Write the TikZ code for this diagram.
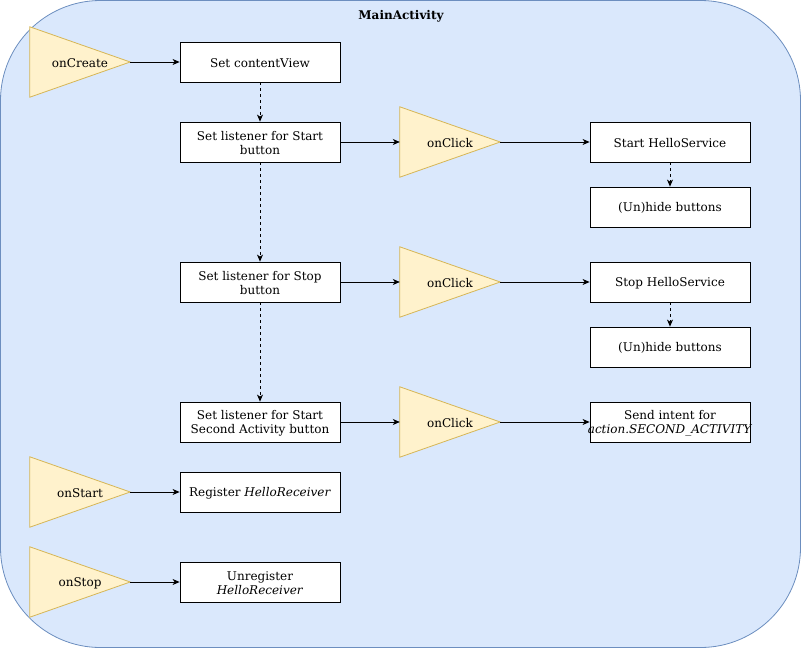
\documentclass[tikz,border=0pt]{standalone}
\usepackage{fontspec}
\setmainfont{DejaVu Serif}
\usetikzlibrary{arrows.meta}
\definecolor{outerfill}{HTML}{DAE8FC}
\definecolor{outerline}{HTML}{6C8EBF}
\definecolor{trifill}{HTML}{FFF2CC}
\definecolor{triline}{HTML}{D6B656}
\begin{document}
\begin{tikzpicture}[x=1pt,y=-1pt,
  font=\fontsize{12}{14}\selectfont,
  box/.style={draw=black,fill=white,minimum width=160pt,minimum height=40pt,inner sep=0pt,line width=0.8pt},
  txt/.style={align=center,inner sep=0pt},
  trilabel/.style={minimum width=100pt,minimum height=70pt,inner sep=0pt},
  trishape/.style={draw=triline,fill=trifill,line width=0.8pt},
  arr/.style={-{Stealth[length=7pt,width=6pt,inset=2pt]},line width=0.8pt},
  darr/.style={arr,dashed,dash pattern=on 3pt off 3pt}]
\useasboundingbox (0,0) rectangle (801,648);
\draw[fill=outerfill,draw=outerline,line width=0.8pt,rounded corners=100pt] (0.5,0.5) rectangle (800.5,647.5);
\node[font=\fontsize{12}{14}\selectfont\bfseries] (title) at (401,16) {MainActivity};

% triangles (bounding nodes)
\node[trilabel] (tcreate) at (80,62) {};
\node[trilabel] (tclick1) at (450,142) {};
\node[trilabel] (tclick2) at (450,282) {};
\node[trilabel] (tclick3) at (450,422) {};
\node[trilabel] (tstart) at (80,492) {};
\node[trilabel] (tstop) at (80,582) {};
\foreach \t in {tcreate,tclick1,tclick2,tclick3,tstart,tstop}{
  \draw[trishape] (\t.north west) -- (\t.east) -- (\t.south west) -- cycle;
}
\node[txt] (lcreate) at ([yshift=-1pt]tcreate) {onCreate};
\node[txt] (lclick1) at ([yshift=-1pt]tclick1) {onClick};
\node[txt] (lclick2) at ([yshift=-1pt]tclick2) {onClick};
\node[txt] (lclick3) at ([yshift=-1pt]tclick3) {onClick};
\node[txt] (lstartt) at ([yshift=-1pt]tstart) {onStart};
\node[txt] (lstopt) at ([yshift=-1pt]tstop) {onStop};

% boxes
\node[box] (content) at (260,62) {};
\node[box] (lstart) at (260,142) {};
\node[box] (lstop) at (260,282) {};
\node[box] (lsecond) at (260,422) {};
\node[box] (register) at (260,492) {};
\node[box] (unregister) at (260,582) {};
\node[box] (starths) at (670,142) {};
\node[box] (hide1) at (670,207) {};
\node[box] (stophs) at (670,282) {};
\node[box] (hide2) at (670,347) {};
\node[box] (intent) at (670,422) {};
\node[txt] (tcontent) at ([yshift=-1pt]content) {Set contentView};
\node[txt] (tlstart) at ([yshift=-1pt]lstart) {Set listener for Start\\button};
\node[txt] (tlstop) at ([yshift=-1pt]lstop) {Set listener for Stop\\button};
\node[txt] (tlsecond) at ([yshift=-1pt]lsecond) {Set listener for Start\\Second Activity button};
\node[txt] (tregister) at ([yshift=-1pt]register) {Register \textit{HelloReceiver}};
\node[txt] (tunregister) at ([yshift=-1pt]unregister) {Unregister\\\textit{HelloReceiver}};
\node[txt] (tstarths) at ([yshift=-1pt]starths) {Start HelloService};
\node[txt] (thide1) at ([yshift=-1pt]hide1) {(Un)hide buttons};
\node[txt] (tstophs) at ([yshift=-1pt]stophs) {Stop HelloService};
\node[txt] (thide2) at ([yshift=-1pt]hide2) {(Un)hide buttons};
\node[txt] (tintent) at ([yshift=-1pt]intent) {Send intent for\\\textit{action.SECOND\_ACTIVITY}};

% connectors
\draw[arr] (tcreate.east) -- (content.west);
\draw[arr] (tstart.east) -- (register.west);
\draw[arr] (tstop.east) -- (unregister.west);
\draw[arr] (lstart.east) -- (tclick1.west);
\draw[arr] (lstop.east) -- (tclick2.west);
\draw[arr] (lsecond.east) -- (tclick3.west);
\draw[arr] (tclick1.east) -- (starths.west);
\draw[arr] (tclick2.east) -- (stophs.west);
\draw[arr] (tclick3.east) -- (intent.west);
\draw[darr] (content.south) -- (lstart.north);
\draw[darr] (lstart.south) -- (lstop.north);
\draw[darr] (lstop.south) -- (lsecond.north);
\draw[darr] (starths.south) -- (hide1.north);
\draw[darr] (stophs.south) -- (hide2.north);
\end{tikzpicture}
\end{document}
